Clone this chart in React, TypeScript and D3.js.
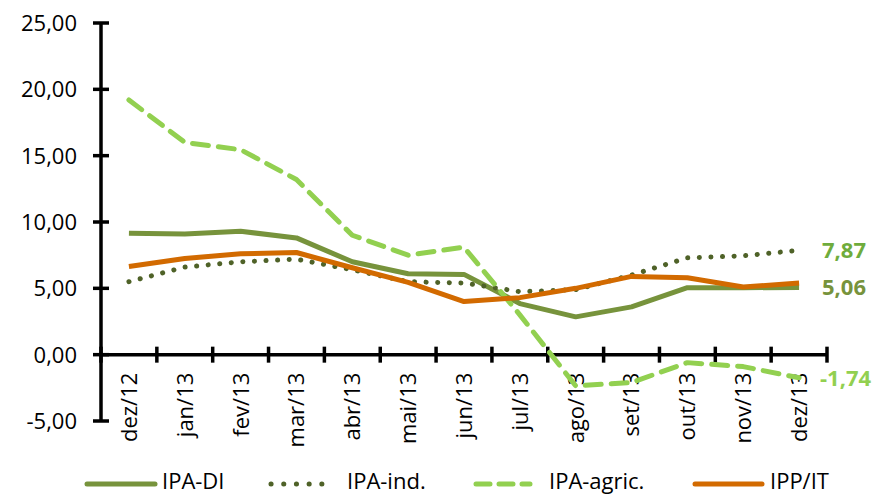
import React from "react";
import * as d3 from "d3";

const categories = ["dez/12","jan/13","fev/13","mar/13","abr/13","mai/13","jun/13","jul/13","ago/13","set/13","out/13","nov/13","dez/13"];
const ipaDI = [9.16, 9.1, 9.3, 8.8, 7.0, 6.1, 6.05, 3.85, 2.85, 3.6, 5.05, 5.05, 5.06];
const ipaInd = [5.5, 6.6, 7.0, 7.2, 6.4, 5.5, 5.4, 4.75, 4.9, 6.0, 7.3, 7.45, 7.87];
const ipaAgric = [19.2, 16.0, 15.45, 13.2, 9.0, 7.5, 8.1, 3.0, -2.35, -2.1, -0.6, -0.9, -1.74];
const ippIT = [6.65, 7.25, 7.6, 7.7, 6.55, 5.45, 4.0, 4.3, 5.0, 5.9, 5.8, 5.1, 5.4];
const yTicks = [-5, 0, 5, 10, 15, 20, 25];

const series = [
  { name: "IPA-DI", values: ipaDI, color: "#77933C", dash: "", cap: "butt" },
  { name: "IPA-ind.", values: ipaInd, color: "#4F6228", dash: "0.1 11.5", cap: "round" },
  { name: "IPA-agric.", values: ipaAgric, color: "#92D050", dash: "16 10", cap: "round" },
  { name: "IPP/IT", values: ippIT, color: "#D26A00", dash: "", cap: "butt" },
];

const endLabels = [
  { text: "7,87", value: 7.87, color: "#6FAC3C" },
  { text: "5,06", value: 5.06, color: "#77933C" },
  { text: "-1,74", value: -1.74, color: "#92D050" },
];

const fmt = (v: number) => d3.format(".2f")(v).replace(".", ",").replace("\u2212", "-");

export default function App() {
  const W = 878, H = 494;
  const x0 = 101, x1 = 827;
  const y = d3.scaleLinear().domain([-5, 25]).range([421, 23]);
  const band = d3.scaleBand().domain(categories).range([x0, x1]).paddingInner(0).paddingOuter(0);
  const cx = (c: string) => (band(c) as number) + band.bandwidth() / 2;
  const font = "'Open Sans', sans-serif";
  const line = (vals: number[]) =>
    d3.line<number>().x((_, i) => cx(categories[i])).y((v) => y(v))(vals) as string;

  const legendItems = [
    { x1: 87, x2: 155, tx: 162, dash: "" },
    { x1: 271, x2: 334, tx: 347, dash: "0.1 12.6" },
    { x1: 476, x2: 530, tx: 549, dash: "14 9" },
    { x1: 695, x2: 762, tx: 770, dash: "" },
  ];

  return (
    <svg width={W} height={H} style={{ position: "absolute", left: 0, top: 0, background: "#fff" }}>
      {/* y axis */}
      <line x1={x0} x2={x0} y1={y(25)} y2={y(-5)} stroke="#000" strokeWidth={3.5} />
      {yTicks.map((t) => (
        <g key={t}>
          <line x1={x0 - 8} x2={x0 + 8} y1={y(t)} y2={y(t)} stroke="#000" strokeWidth={3.5} />
          <text x={77} y={y(t)} dy="0.36em" textAnchor="end" fontFamily={font} fontSize={22} fill="#000">
            {fmt(t)}
          </text>
        </g>
      ))}
      {/* x axis */}
      <line x1={x0} x2={x1} y1={y(0)} y2={y(0)} stroke="#000" strokeWidth={3.5} />
      {d3.range(categories.length + 1).map((i) => {
        const xx = x0 + i * band.bandwidth();
        return <line key={i} x1={xx} x2={xx} y1={y(0) - 8} y2={y(0) + 8} stroke="#000" strokeWidth={3.5} />;
      })}
      {categories.map((c) => (
        <text key={c} transform={`translate(${cx(c)},${y(0) + 18}) rotate(-90)`} dy="0.36em" textAnchor="end"
          fontFamily={font} fontSize={22} fill="#000">
          {c}
        </text>
      ))}
      {/* lines */}
      {series.map((s) => (
        <path key={s.name} d={line(s.values)} fill="none" stroke={s.color} strokeWidth={5}
          strokeDasharray={s.dash || undefined} strokeLinecap={s.cap as any} strokeLinejoin="round" />
      ))}
      {/* end labels */}
      {endLabels.map((l) => (
        <text key={l.text} x={l.text.startsWith("-") ? 820 : 822} y={y(l.value)} dy="0.36em" fontFamily={font}
          fontWeight="bold" fontSize={22} fill={l.color}>
          {l.text}
        </text>
      ))}
      {/* legend */}
      {series.map((s, i) => (
        <g key={s.name}>
          <line x1={legendItems[i].x1} x2={legendItems[i].x2} y1={484} y2={484} stroke={s.color} strokeWidth={5}
            strokeDasharray={legendItems[i].dash || undefined} strokeLinecap="round" />
          <text x={legendItems[i].tx} y={489} fontFamily={font} fontSize={22} fill="#000">
            {s.name}
          </text>
        </g>
      ))}
    </svg>
  );
}
